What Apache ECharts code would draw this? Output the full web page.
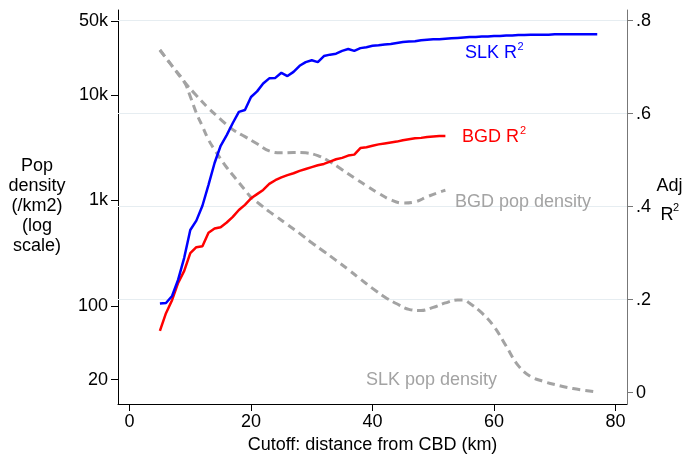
<!DOCTYPE html>
<html><head><meta charset="utf-8">
<script src="https://cdn.jsdelivr.net/npm/echarts@6/dist/echarts.min.js"></script>
<style>html,body{margin:0;padding:0;background:#fff}#c{width:689px;height:454px}</style>
</head><body><div id="c"></div>
<script>
// ---- data ----
const slkR2Km = [5,6,7,8,9,10,11,12,13,14,15,16,17,18,19,20,21,22,23,24,25,26,27,28,29,30,31,32,33,34,35,36,37,38,39,40,41,42,43,44,45,46,47,48,49,50,51,52,53,54,55,56,57,58,59,60,61,62,63,64,65,66,67,68,69,70,71,72,73,74,75,76,77];
const slkR2 = [0.192,0.193,0.208,0.243,0.290,0.350,0.370,0.402,0.447,0.494,0.531,0.554,0.580,0.604,0.608,0.636,0.648,0.665,0.676,0.677,0.688,0.681,0.690,0.703,0.711,0.715,0.711,0.724,0.727,0.729,0.735,0.739,0.735,0.741,0.743,0.746,0.747,0.749,0.750,0.752,0.754,0.755,0.756,0.758,0.759,0.760,0.760,0.761,0.762,0.763,0.764,0.765,0.765,0.766,0.766,0.767,0.767,0.768,0.768,0.769,0.769,0.770,0.770,0.770,0.770,0.771,0.771,0.771,0.771,0.771,0.771,0.771,0.771];
const bgdR2Km = [5,6,7,8,9,10,11,12,13,14,15,16,17,18,19,20,21,22,23,24,25,26,27,28,29,30,31,32,33,34,35,36,37,38,39,40,41,42,43,44,45,46,47,48,49,50,51,52];
const bgdR2 = [0.133,0.171,0.199,0.236,0.262,0.300,0.313,0.315,0.344,0.353,0.356,0.366,0.378,0.393,0.404,0.418,0.427,0.436,0.449,0.457,0.463,0.468,0.472,0.477,0.481,0.485,0.489,0.492,0.497,0.502,0.505,0.510,0.512,0.526,0.528,0.531,0.534,0.536,0.538,0.540,0.543,0.545,0.547,0.548,0.550,0.551,0.552,0.552];
const bgdPopKm = [5,7,9,11,13,15,17,19,21,23,25,27,29,31,33,35,37,39,41,43,45,47,49,51,52];
const bgdPopDensity = [26700,18870,13370,9910,7500,5890,4700,4030,3450,2950,2830,2850,2830,2660,2330,1960,1640,1380,1170,1016,945,970,1085,1200,1250];
const slkPopKm = [5,7,9,10,11,12,13,14,15,16,17,18,19,20,21,22,23,24,26,28,30,32,34,36,38,40,42,44,46,48,50,52,54,55,56,58,60,62,64,66,68,70,73,77];
const slkPopDensity = [26700,18870,13370,9700,6760,5050,3770,3030,2480,2055,1745,1480,1260,1072,966,871,785,716,591,488,398,329,271,222,180,147,122,105,93,90.6,97,107,114,114,106,86,64,41.7,27.2,21.5,19.4,18.0,16.5,15.3];
const xTicks = [0,20,40,60,80];
const popTicks = [20,100,1000,10000,50000];
const r2Ticks = [0,0.2,0.4,0.6,0.8];
const r2Grid = [0.2,0.4,0.6,0.8];

const pair = (xs, ys) => xs.map((x, i) => [x, ys[i]]);
const FF = "'Liberation Sans', Arial, sans-serif";
const GRAY = '#a3a3a3';

const chart = echarts.init(document.getElementById('c'), null, {renderer: 'canvas'});
chart.setOption({
  animation: false,
  backgroundColor: '#fff',
  textStyle: {fontFamily: FF},
  grid: [
    {left: 118, right: 62, top: 10, bottom: 50, containLabel: false, outerBoundsMode: 'none'},
    {left: 118, right: 62, top: 10, bottom: 42.5, containLabel: false, outerBoundsMode: 'none'}
  ],
  xAxis: [{
    gridIndex: 0, type: 'value', min: -1.9, max: 81.9,
    axisLine: {show: true, onZero: false, lineStyle: {color: '#000', width: 1}},
    axisTick: {show: true, customValues: xTicks, length: 7, lineStyle: {color: '#000'}},
    axisLabel: {customValues: xTicks, margin: 9.5, fontSize: 18, color: '#000', fontFamily: FF},
    splitLine: {show: false},
    name: 'Cutoff: distance from CBD (km)', nameLocation: 'middle', nameGap: 30,
    nameTextStyle: {fontSize: 18, color: '#000', fontFamily: FF}
  }, {
    gridIndex: 1, type: 'value', min: -1.9, max: 81.9, show: false
  }],
  yAxis: [{
    gridIndex: 1, type: 'log', logBase: 10, min: 10, max: 63970, position: 'left',
    axisLine: {show: false, onZero: false},
    axisTick: {show: true, customValues: popTicks, length: 7, lineStyle: {color: '#000'}},
    axisLabel: {customValues: popTicks, margin: 10, fontSize: 18, color: '#000', fontFamily: FF,
      formatter: v => v >= 1000 ? Math.round(v / 1000) + 'k' : String(Math.round(v))},
    splitLine: {show: false}
  }, {
    gridIndex: 0, type: 'value', min: -0.0243, max: 0.823, position: 'right',
    axisLine: {show: true, onZero: false, lineStyle: {color: '#777', width: 1}},
    axisTick: {show: true, customValues: r2Ticks, length: 6, lineStyle: {color: '#777'}},
    axisLabel: {customValues: r2Ticks, margin: 9, fontSize: 18, color: '#000', fontFamily: FF,
      formatter: v => Math.abs(v) < 1e-9 ? '0' : '.' + Math.round(v * 10)},
    splitLine: {show: false}
  }, {
    gridIndex: 0, type: 'value', min: 0, max: 1, position: 'left',
    axisLine: {show: true, onZero: false, lineStyle: {color: '#000', width: 1}},
    axisTick: {show: false}, axisLabel: {show: false}, splitLine: {show: false}
  }],
  series: [
    {
      name: 'BGD R2', type: 'line', xAxisIndex: 0, yAxisIndex: 1, data: pair(bgdR2Km, bgdR2),
      showSymbol: false, symbol: 'none', z: 4,
      lineStyle: {color: '#ff0000', width: 2.5},
      markLine: {
        silent: true, symbol: 'none', z: 1, animation: false,
        label: {show: false},
        lineStyle: {color: '#e6edf1', width: 1.2, type: 'solid'},
        emphasis: {disabled: true},
        data: r2Grid.map(v => ({yAxis: v}))
      }
    },
    {
      name: 'SLK R2', type: 'line', xAxisIndex: 0, yAxisIndex: 1, data: pair(slkR2Km, slkR2),
      showSymbol: false, symbol: 'none', z: 4,
      lineStyle: {color: '#0000ff', width: 2.5}
    },
    {
      name: 'BGD pop density', type: 'line', xAxisIndex: 1, yAxisIndex: 0, data: pair(bgdPopKm, bgdPopDensity),
      showSymbol: false, symbol: 'none', smooth: 0.4, z: 3,
      lineStyle: {color: GRAY, width: 3, type: [8, 5]}
    },
    {
      name: 'SLK pop density', type: 'line', xAxisIndex: 1, yAxisIndex: 0, data: pair(slkPopKm, slkPopDensity),
      showSymbol: false, symbol: 'none', smooth: 0.4, z: 3,
      lineStyle: {color: GRAY, width: 3, type: [8, 5]}
    }
  ],
  graphic: [
    {type: 'text', z: 20, x: 37, y: 206, style: {text: 'Pop\ndensity\n(/km2)\n(log\nscale)', lineHeight: 19.8, fill: '#000', align: 'center', verticalAlign: 'middle', font: '18px ' + FF}},
    {type: 'text', z: 20, x: 669.5, y: 186, style: {text: 'Adj', fill: '#000', align: 'center', verticalAlign: 'middle', font: '18px ' + FF}},
    {type: 'text', z: 20, x: 667, y: 215, style: {text: 'R', fill: '#000', align: 'center', verticalAlign: 'middle', font: '18px ' + FF}},
    {type: 'text', z: 20, x: 673, y: 208, style: {text: '2', fill: '#000', align: 'left', verticalAlign: 'middle', font: '11px ' + FF}},
    {type: 'text', z: 20, x: 465, y: 53.5, style: {text: 'SLK R', fill: '#0000ff', align: 'left', verticalAlign: 'middle', font: '18px ' + FF}},
    {type: 'text', z: 20, x: 517.5, y: 46.5, style: {text: '2', fill: '#0000ff', align: 'left', verticalAlign: 'middle', font: '11px ' + FF}},
    {type: 'text', z: 20, x: 462, y: 137, style: {text: 'BGD R', fill: '#ff0000', align: 'left', verticalAlign: 'middle', font: '18px ' + FF}},
    {type: 'text', z: 20, x: 520, y: 130.5, style: {text: '2', fill: '#ff0000', align: 'left', verticalAlign: 'middle', font: '11px ' + FF}},
    {type: 'text', z: 20, x: 455, y: 202, style: {text: 'BGD pop density', fill: GRAY, align: 'left', verticalAlign: 'middle', font: '18px ' + FF}},
    {type: 'text', z: 20, x: 366, y: 380.5, style: {text: 'SLK pop density', fill: GRAY, align: 'left', verticalAlign: 'middle', font: '18px ' + FF}}
  ]
});
</script>
</body></html>
